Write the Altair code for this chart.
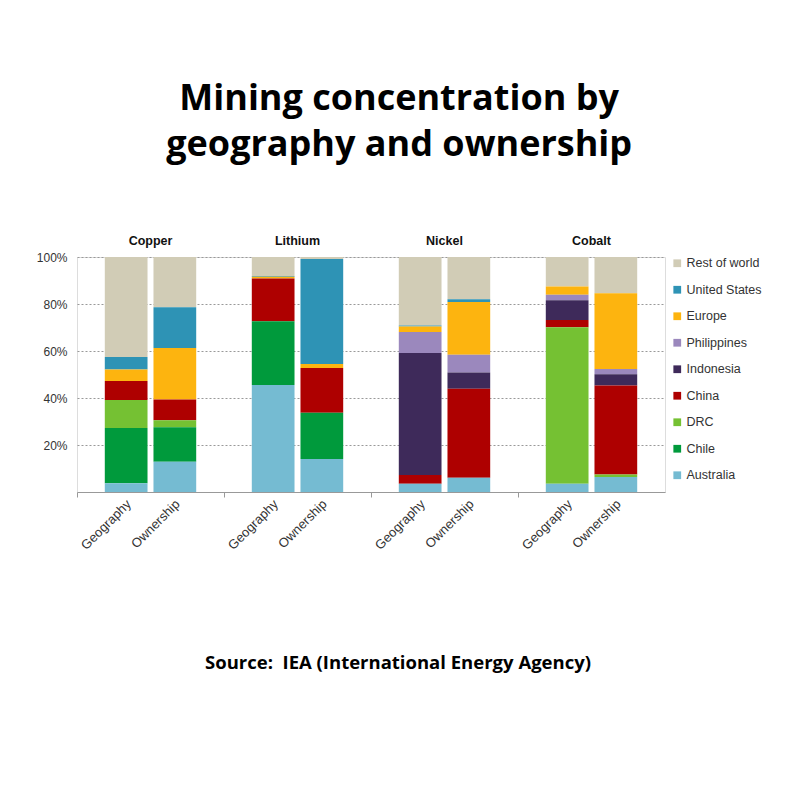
import altair as alt
import pandas as pd

metals = ["Copper", "Lithium", "Nickel", "Cobalt"]
types = ["Geography", "Ownership"]
regions = ["Rest of world", "United States", "Europe", "Philippines", "Indonesia",
           "China", "DRC", "Chile", "Australia"]
colors = ["#D1CCB6", "#2E93B5", "#FDB40F", "#9B88BD", "#3E2A5A",
          "#AE0000", "#75C133", "#009A3C", "#75BBD2"]

# bar order: Copper G, Copper O, Lithium G, Lithium O, Nickel G, Nickel O, Cobalt G, Cobalt O
australia = [3.7, 12.9, 45.5, 14.0, 3.5, 6.1, 3.5, 6.4]
chile = [23.5, 14.7, 27.2, 19.7, 0, 0, 0, 0]
drc = [11.9, 2.9, 0, 0, 0, 0, 66.6, 1.0]
china = [8.1, 8.9, 18.1, 19.1, 3.7, 37.8, 3.1, 37.9]
indonesia = [0, 0, 0, 0, 51.9, 6.9, 8.4, 4.8]
philippines = [0, 0, 0, 0, 9.0, 7.6, 2.3, 2.2]
europe = [4.9, 21.9, 0.8, 1.7, 2.3, 22.5, 3.5, 32.3]
united_states = [5.3, 17.3, 0.3, 44.7, 0.4, 1.1, 0, 0]
rest_of_world = [42.6, 21.4, 8.1, 0.8, 29.2, 18.0, 12.6, 15.4]

series = {
    "Rest of world": rest_of_world,
    "United States": united_states,
    "Europe": europe,
    "Philippines": philippines,
    "Indonesia": indonesia,
    "China": china,
    "DRC": drc,
    "Chile": chile,
    "Australia": australia,
}

rows = []
bars = [(m, t) for m in metals for t in types]
for r in regions:
    for i, (m, t) in enumerate(bars):
        rows.append({"metal": m, "type": t, "region": r,
                     "value": series[r][i],
                     "rank": len(regions) - 1 - regions.index(r)})
df = pd.DataFrame(rows)
lab_df = pd.DataFrame([{"metal": m, "type": t} for m, t in bars])
head_df = pd.DataFrame({"metal": metals})
src_df = pd.DataFrame({"txt": ["Source:\u00a0 IEA (International Energy Agency)"]})

x_enc = alt.X("metal:N", sort=metals,
              scale=alt.Scale(paddingInner=0, paddingOuter=0),
              axis=alt.Axis(labels=False, title=None, ticks=True, tickSize=5,
                            bandPosition=0, domainColor="#999999",
                            tickColor="#999999", grid=False))
xo_enc = alt.XOffset("type:N", sort=types,
                     scale=alt.Scale(paddingInner=0.1224, paddingOuter=0.571))

bars_chart = alt.Chart(df).mark_bar().encode(
    x=x_enc,
    xOffset=xo_enc,
    y=alt.Y("value:Q", stack="zero",
            scale=alt.Scale(domain=[0, 100]),
            axis=alt.Axis(title=None, values=[20, 40, 60, 80, 100],
                          labelExpr="datum.value + '%'", domain=False,
                          ticks=False, labelPadding=10, labelFontSize=12,
                          labelColor="#333333", labelFont="Liberation Sans",
                          gridDash=[2, 2], gridColor="#999999")),
    color=alt.Color("region:N", scale=alt.Scale(domain=regions, range=colors),
                    legend=alt.Legend(title=None, symbolType="square",
                                      symbolSize=60, labelFontSize=12.5,
                                      labelFont="Liberation Sans",
                                      labelColor="#333333", rowPadding=13.5,
                                      offset=6, padding=0, labelOffset=3,
                                      symbolStrokeWidth=0)),
    order=alt.Order("rank:Q", sort="ascending"),
)

labels = alt.Chart(lab_df).mark_text(
    angle=315, align="right", baseline="middle", fontSize=13,
    font="Liberation Sans", color="#333333", dx=4
).encode(
    x=alt.X("metal:N", sort=metals),
    xOffset=alt.XOffset("type:N", sort=types),
    y=alt.value(248),
    text="type:N",
)

heads = alt.Chart(head_df).mark_text(
    fontSize=12.5, fontWeight="bold", font="Liberation Sans", color="#111111",
    baseline="middle"
).encode(
    x=alt.X("metal:N", sort=metals),
    y=alt.value(-16),
    text="metal:N",
)

source = alt.Chart(src_df).mark_text(
    fontSize=18.5, fontWeight="bold", font="Open Sans", color="black",
    align="center", baseline="middle"
).encode(
    x=alt.value(321),
    y=alt.value(406),
    text="txt:N",
)

chart = alt.layer(bars_chart, labels, heads, source).properties(
    width=588, height=235,
    padding={"left": 28, "top": 73, "right": 10, "bottom": 10},
    title=alt.TitleParams(["Mining concentration by", "geography and ownership"],
                          fontSize=36, font="Open Sans", fontWeight="bold",
                          anchor="middle", frame="bounds", lineHeight=46,
                          offset=71, color="black"),
).configure_view(stroke=None).configure(background="white")

chart.save("out.html", embed_options={"renderer": "svg", "actions": False})
